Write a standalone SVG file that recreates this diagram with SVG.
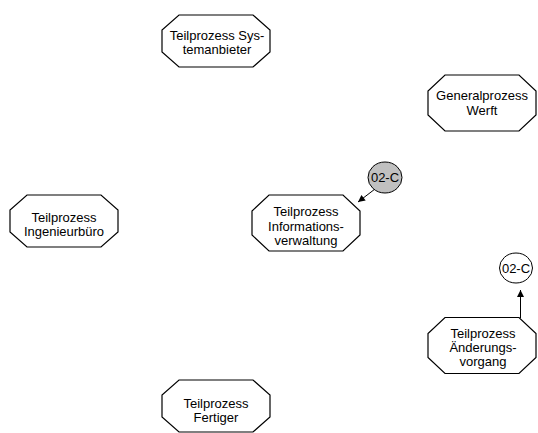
<svg xmlns="http://www.w3.org/2000/svg" xmlns:xlink="http://www.w3.org/1999/xlink" width="538" height="433" viewBox="0 0 538 433">
<style>
  .oct { fill: #ffffff; stroke: #000000; stroke-width: 1.2; }
  .circ { stroke: #000000; stroke-width: 1; }
  .lbl { font-family: "Liberation Sans", Arial, sans-serif; font-size: 13px; fill: #000000; text-anchor: middle; }
  .edge { stroke: #000000; stroke-width: 1; fill: none; marker-end: url(#arrow); }
</style>
<defs>
  <marker id="arrow" viewBox="0 0 10 10" refX="10" refY="5" markerWidth="12" markerHeight="7" markerUnits="userSpaceOnUse" orient="auto">
    <path d="M0,0 L10,5 L0,10 Z" fill="#000000"/>
  </marker>
  <polygon id="oct2" class="oct" points="-37,-26 37,-26 54,-11 54,11 37,26 -37,26 -54,11 -54,-11"/>
  <polygon id="oct3" class="oct" points="-37,-28 37,-28 54,-12 54,12 37,28 -37,28 -54,12 -54,-12"/>
</defs>

<g id="connectors">
  <line class="edge" x1="375" y1="189" x2="358" y2="202"/>
  <line class="edge" x1="520.5" y1="318" x2="520.5" y2="290"/>
</g>

<g id="n-systemanbieter">
  <use xlink:href="#oct2" x="216" y="41"/>
  <text class="lbl" x="217" y="39.5">Teilprozess Sys-</text>
  <text class="lbl" x="217" y="53.5">temanbieter</text>
</g>

<g id="n-generalprozess">
  <use xlink:href="#oct3" x="482" y="103"/>
  <text class="lbl" x="482" y="100">Generalprozess</text>
  <text class="lbl" x="482" y="115">Werft</text>
</g>

<g id="n-informationsverwaltung">
  <use xlink:href="#oct3" x="306" y="223"/>
  <text class="lbl" x="306" y="216">Teilprozess</text>
  <text class="lbl" x="306" y="230.5">Informations-</text>
  <text class="lbl" x="306" y="245">verwaltung</text>
</g>

<g id="n-ingenieurbuero">
  <use xlink:href="#oct2" x="64" y="221"/>
  <text class="lbl" x="64" y="222">Teilprozess</text>
  <text class="lbl" x="64" y="236">Ingenieurbüro</text>
</g>

<g id="n-aenderungsvorgang">
  <use xlink:href="#oct3" x="482" y="345.5"/>
  <text class="lbl" x="483" y="338">Teilprozess</text>
  <text class="lbl" x="483" y="352">Änderungs-</text>
  <text class="lbl" x="483" y="366">vorgang</text>
</g>

<g id="n-fertiger">
  <use xlink:href="#oct2" x="216" y="406"/>
  <text class="lbl" x="216" y="407.5">Teilprozess</text>
  <text class="lbl" x="216" y="421.5">Fertiger</text>
</g>

<g id="c-02c-gray">
  <ellipse class="circ" cx="385" cy="177.5" rx="17" ry="15.5" fill="#c0c0c0"/>
  <text class="lbl" x="385" y="182">02-C</text>
</g>

<g id="c-02c-white">
  <ellipse class="circ" cx="516" cy="268" rx="16.5" ry="15" fill="#ffffff"/>
  <text class="lbl" x="516" y="272.5">02-C</text>
</g>
</svg>
